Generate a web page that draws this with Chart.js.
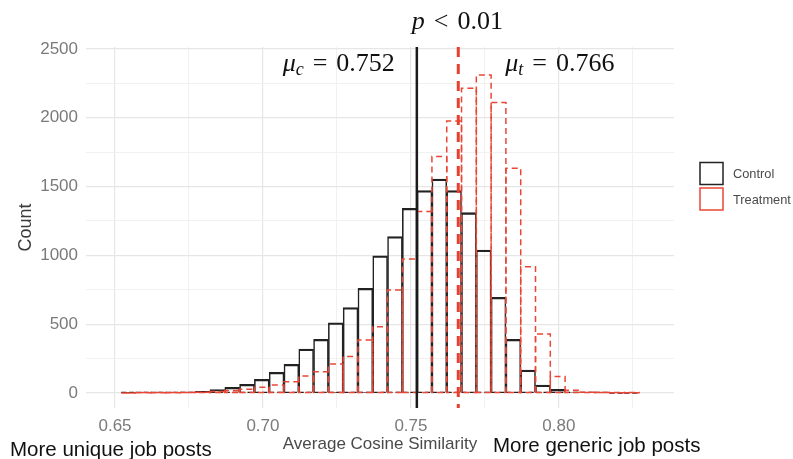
<!DOCTYPE html>
<html><head><meta charset="utf-8">
<script src="https://cdn.jsdelivr.net/npm/chart.js@4"></script>
<style>html,body{margin:0;padding:0;background:#fff}#wrap{width:793px;height:459px;position:relative}</style>
</head><body><div id="wrap"><canvas id="c" width="793" height="459"></canvas></div>
<script>
// ---- data ----
const binCenters = [0.6546,0.6596,0.6646,0.6696,0.6746,0.6796,0.6846,0.6896,0.6946,0.6996,
  0.7046,0.7096,0.7146,0.7196,0.7246,0.7296,0.7346,0.7396,0.7446,0.7496,
  0.7546,0.7596,0.7646,0.7696,0.7746,0.7796,0.7846,0.7896,0.7946,0.7996,
  0.8046,0.8096,0.8146,0.8196,0.8246];
const controlCounts = [1,1,2,3,6,12,25,41,63,99,
  150,208,320,390,510,620,761,996,1136,1342,
  1470,1555,1470,1310,1039,695,390,167,58,27,
  4,2,1,0,0];
const treatmentCounts = [0,1,1,2,3,5,10,18,28,41,
  58,82,123,155,210,266,385,482,749,974,
  1318,1718,1977,2214,2311,2110,1633,918,429,119,
  20,6,3,1,1];
const seriesNames = ['Control','Treatment'];
const muControl = 0.752;
const muTreatment = 0.766;
const pLabel = '0.01';
const xTickLabels = [0.65,0.70,0.75,0.80];
const xGridValues = [0.65,0.675,0.70,0.725,0.75,0.775,0.80,0.825];
const yTickLabels = [0,500,1000,1500,2000,2500];
const yGridValues = [0,250,500,750,1000,1250,1500,1750,2000,2250,2500];
const xTitle = 'Average Cosine Similarity';
const yTitle = 'Count';
const leftNote = 'More unique job posts';
const rightNote = 'More generic job posts';

// ---- styling ----
const SANS = '"Liberation Sans", Arial, sans-serif';
const SERIF = '"Liberation Serif", "Times New Roman", serif';
const RED = '#ea4636';
const BLACK = '#222222';

const isIn = (arr, v) => arr.some(t => Math.abs(t - v) < 1e-9);

const overlay = {
  id: 'overlay',
  afterDatasetsDraw(chart) {
    const ctx = chart.ctx;
    const xs = chart.scales.x;
    const area = chart.chartArea;
    // control bar bottoms (zero-height bars keep a visible base)
    ctx.save();
    ctx.strokeStyle = BLACK; ctx.lineWidth = 1.3; ctx.setLineDash([5,3]);
    chart.getDatasetMeta(0).data.forEach(el => {
      const p = el.getProps(['x','base','width'], true);
      ctx.beginPath(); ctx.moveTo(p.x - p.width/2, p.base); ctx.lineTo(p.x + p.width/2, p.base); ctx.stroke();
    });
    ctx.restore();
    // treatment bars: dashed outlines
    ctx.save();
    ctx.strokeStyle = RED; ctx.lineWidth = 1.5; ctx.setLineDash([6,4]);
    chart.getDatasetMeta(1).data.forEach(el => {
      const p = el.getProps(['x','y','base','width'], true);
      const l = p.x - p.width/2, r = p.x + p.width/2;
      ctx.beginPath();
      ctx.moveTo(l, p.base); ctx.lineTo(l, p.y); ctx.lineTo(r, p.y); ctx.lineTo(r, p.base); ctx.closePath();
      ctx.stroke();
    });
    ctx.restore();
    // mean lines
    const xc = xs.getPixelForValue(muControl);
    const xt = xs.getPixelForValue(muTreatment);
    ctx.save();
    ctx.strokeStyle = '#1a1a1a'; ctx.lineWidth = 2.5;
    ctx.beginPath(); ctx.moveTo(xc, area.top); ctx.lineTo(xc, area.bottom); ctx.stroke();
    ctx.strokeStyle = '#e8402f'; ctx.lineWidth = 3; ctx.setLineDash([10,7]);
    ctx.beginPath(); ctx.moveTo(xt, area.top); ctx.lineTo(xt, area.bottom); ctx.stroke();
    ctx.restore();
  },
  afterDraw(chart) {
    const ctx = chart.ctx;
    const xs = chart.scales.x;
    const xc = xs.getPixelForValue(muControl);
    const xt = xs.getPixelForValue(muTreatment);
    function mathText(pieces, x, baseline, align) {
      const widths = pieces.map(pc => {
        if (pc.gap) return pc.gap;
        ctx.font = (pc.it ? 'italic ' : '') + (pc.s || 26) + 'px ' + SERIF;
        return ctx.measureText(pc.t).width;
      });
      const total = widths.reduce((a,b)=>a+b,0);
      let cx = align === 'right' ? x - total : x;
      ctx.fillStyle = '#111';
      ctx.textBaseline = 'alphabetic'; ctx.textAlign = 'left';
      pieces.forEach((pc, i) => {
        if (!pc.gap) {
          ctx.font = (pc.it ? 'italic ' : '') + (pc.s || 26) + 'px ' + SERIF;
          ctx.fillText(pc.t, cx, baseline + (pc.dy || 0));
        }
        cx += widths[i];
      });
    }
    ctx.save();
    mathText([{t:'μ',it:true},{t:'c',it:true,s:18,dy:4},{gap:9},{t:'='},{gap:9},{t:muControl.toFixed(3)}], xc - 22, 71, 'right');
    mathText([{t:'μ',it:true},{t:'t',it:true,s:18,dy:4},{gap:9},{t:'='},{gap:9},{t:muTreatment.toFixed(3)}], xt + 47, 71, 'left');
    mathText([{t:'p',it:true},{gap:9},{t:'<'},{gap:9},{t:pLabel}], xc - 5, 29, 'left');
    // notes under the axis
    ctx.fillStyle = '#111';
    ctx.font = '20.5px ' + SANS;
    ctx.textAlign = 'left'; ctx.textBaseline = 'alphabetic';
    ctx.fillText(leftNote, 10, 456);
    ctx.fillText(rightNote, 493, 452);
    // legend
    const lx = 700, ly = [162.5, 188];
    const lc = [BLACK, RED];
    ctx.lineWidth = 1.5;
    seriesNames.forEach((nm, i) => {
      ctx.strokeStyle = lc[i];
      ctx.fillStyle = '#fff';
      ctx.fillRect(lx, ly[i], 23, 22);
      ctx.strokeRect(lx, ly[i], 23, 22);
      ctx.fillStyle = '#4a4a4a';
      ctx.font = '12.8px ' + SANS;
      ctx.textBaseline = 'middle';
      ctx.fillText(nm, 733, ly[i] + 12);
    });
    ctx.restore();
  }
};

const gridColor = (major) => major ? '#e6e6e6' : '#efefef';

new Chart(document.getElementById('c'), {
  type: 'bar',
  data: {
    datasets: [
      {
        label: seriesNames[0],
        data: binCenters.map((x, i) => ({x, y: controlCounts[i]})),
        backgroundColor: 'rgba(0,0,0,0)',
        borderColor: BLACK,
        borderWidth: {top: 1.6, left: 0.9, right: 0.9, bottom: 0},
        borderSkipped: false,
        grouped: false,
        barPercentage: 1, categoryPercentage: 1
      },
      {
        label: seriesNames[1],
        data: binCenters.map((x, i) => ({x, y: treatmentCounts[i]})),
        backgroundColor: 'rgba(0,0,0,0)',
        borderWidth: 0,
        grouped: false,
        barPercentage: 1, categoryPercentage: 1
      }
    ]
  },
  options: {
    responsive: false,
    animation: false,
    devicePixelRatio: 1,
    layout: {padding: {left: 0, top: 47, right: 119, bottom: 0}},
    plugins: {legend: {display: false}, tooltip: {enabled: false}},
    scales: {
      x: {
        type: 'linear', min: 0.6402, max: 0.8389, offset: false,
        border: {display: false},
        grid: {offset: false, drawTicks: false,
          color: c => gridColor(isIn(xTickLabels, c.tick.value)),
          lineWidth: c => isIn(xTickLabels, c.tick.value) ? 1.2 : 0.9},
        afterBuildTicks: s => { s.ticks = xGridValues.map(v => ({value: v})); },
        afterFit: s => { s.height = 51; },
        ticks: {
          autoSkip: false, maxRotation: 0, padding: 8, color: '#7a7a7a',
          font: {family: SANS, size: 17},
          callback: v => isIn(xTickLabels, v) ? v.toFixed(2) : ''
        },
        title: {display: true, text: xTitle, color: '#4a4a4a', font: {family: SANS, size: 17}, padding: {top: 0, bottom: 4}}
      },
      y: {
        min: -109, max: 2514,
        border: {display: false},
        grid: {drawTicks: false,
          color: c => gridColor(isIn(yTickLabels, c.tick.value)),
          lineWidth: c => isIn(yTickLabels, c.tick.value) ? 1.2 : 0.9},
        afterBuildTicks: s => { s.ticks = yGridValues.map(v => ({value: v})); },
        afterFit: s => { s.width = 86; },
        ticks: {
          autoSkip: false, padding: 8, color: '#7a7a7a',
          font: {family: SANS, size: 17},
          callback: v => isIn(yTickLabels, v) ? String(v) : ''
        },
        title: {display: true, text: yTitle, color: '#3a3a3a', font: {family: SANS, size: 18}, padding: {top: 15, bottom: 0}}
      }
    }
  },
  plugins: [overlay]
});
</script>
</body></html>
